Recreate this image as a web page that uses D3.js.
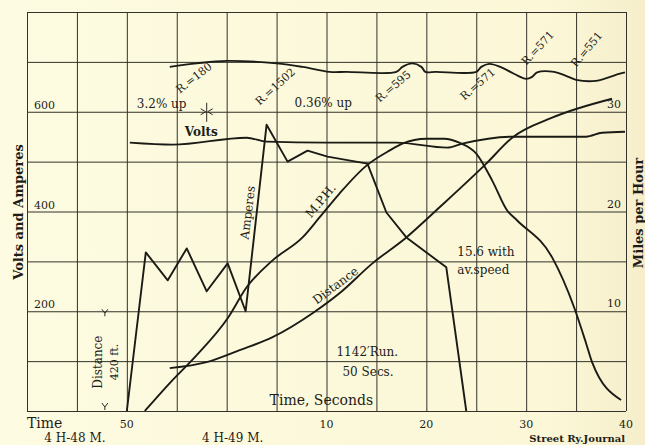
<!DOCTYPE html>
<html>
<head>
<meta charset="utf-8">
<script src="https://cdn.jsdelivr.net/npm/d3@7"></script>
<style>
  html, body { margin: 0; padding: 0; background: #fcf9dd; }
  svg { display: block; }
  text { font-family: "DejaVu Serif", "Liberation Serif", serif; fill: #1d1d18; }
</style>
</head>
<body>
<div id="chart"></div>
<script>
// elapsed seconds from 4 H-48 M. 50 s
var timeTickSec = [0, 20, 30, 40, 50];
var timeTickLabels = ["50", "10", "20", "30", "40"];
var voltTicks = [200, 400, 600];
var mphTicks = [10, 20, 30];

// amperes
var ampT = [0, 1.9, 4.1, 6, 8, 10.1, 11.9, 14, 16.1, 18.1, 20.1, 24.1, 26, 28, 32, 34];
var ampV = [0, 318, 262, 326, 240, 296, 200, 574, 500, 522, 510, 496, 398, 348, 288, 0];

// volts
var voltT = [0.3, 4.6, 12, 14, 20, 27, 32.1, 33.6, 38.6, 46, 47.6, 49.9];
var voltV = [538, 534, 548, 540, 538, 538, 528, 536, 550, 550, 558, 560];

// miles per hour
var mphT = [1.8, 4.3, 7, 10.1, 12, 14.6, 17.6, 19.3, 21.3, 24, 26.3, 27.6, 30, 31.8, 33.3, 35, 36.6, 38.1, 39.1, 42.6, 44.8, 46, 46.6, 49.5];
var mphV = [0, 2.8, 5.6, 9.3, 12.4, 15.1, 17.4, 19.4, 21.8, 24.6, 26.1, 26.8, 27.3, 27.3, 26.9, 25.8, 23.1, 20.1, 19.1, 15.4, 10.4, 6.8, 4.9, 1.1];

// distance (drawn on volts scale)
var distT = [4.3, 8, 11.3, 14.6, 18.6, 21.3, 24.6, 28, 31.3, 36, 38.6, 42.6, 48.6];
var distV = [86, 98, 122, 148, 196, 236, 296, 348, 408, 496, 548, 588, 626];

// track profile (drawn on volts scale)
var profT = [4.3, 7, 10, 15, 17.6, 20.3, 22, 27, 27.6, 28.6, 29.5, 29.9, 31, 35, 35.5, 36.3, 37.4, 38.4, 39.2, 40, 40.6, 41.1, 42.8, 44, 45, 47, 49.3, 49.9];
var profV = [690, 697, 702, 697, 690, 680, 680, 680, 690, 697, 690, 680, 680, 680, 690, 696, 690, 680, 672, 666, 670, 679, 680, 672, 664, 662, 676, 679];

var W = 645, H = 445;
var plotL = 27, plotR = 626, plotT = 12, plotB = 411;

var svg = d3.select("#chart")
    .append("svg")
    .attr("width", W)
    .attr("height", H)

var grad = svg.append("defs").append("linearGradient").attr("id", "paper")
grad.append("stop").attr("offset", "0%").attr("stop-color", "#fdfbe1")
grad.append("stop").attr("offset", "85%").attr("stop-color", "#fbf7d7")
grad.append("stop").attr("offset", "100%").attr("stop-color", "#f6eecb")
svg.append("rect").attr("width", W).attr("height", H).attr("fill", "url(#paper)")

var x = d3.scaleLinear().domain([-10, 50]).range([plotL, plotR]);
var y = d3.scaleLinear().domain([0, 800]).range([plotB, plotT]);
var yMph = d3.scaleLinear().domain([0, 40]).range([plotB, plotT]);

// grid
svg.append("g")
    .attr("transform", "translate(0," + plotB + ")")
    .call(d3.axisBottom(x).tickValues(d3.range(-10, 51, 5)).tickSize(-(plotB - plotT)).tickFormat(""))
    .call(function(g){ g.select(".domain").remove(); })
    .selectAll("line").attr("stroke", "#33322a").attr("stroke-width", 1)

svg.append("g")
    .attr("transform", "translate(" + plotL + ",0)")
    .call(d3.axisLeft(y).tickValues(d3.range(0, 801, 100)).tickSize(-(plotR - plotL)).tickFormat(""))
    .call(function(g){ g.select(".domain").remove(); })
    .selectAll("line").attr("stroke", "#33322a").attr("stroke-width", 1)

// curves
function series(ts, vs, scale, curve) {
    var pts = ts.map(function(t, i){ return [t, vs[i]]; });
    svg.append("path")
        .datum(pts)
        .attr("fill", "none")
        .attr("stroke", "#1b1b16")
        .attr("stroke-width", 1.9)
        .attr("stroke-linejoin", "round")
        .attr("d", d3.line()
            .x(function(d){ return x(d[0]); })
            .y(function(d){ return scale(d[1]); })
            .curve(curve));
}
series(profT, profV, y, d3.curveCatmullRom.alpha(0.5));
series(voltT, voltV, y, d3.curveMonotoneX);
series(ampT, ampV, y, d3.curveLinear);
series(mphT, mphV, yMph, d3.curveMonotoneX);
series(distT, distV, y, d3.curveMonotoneX);

// tick labels inside plot
svg.selectAll(".vlab").data(voltTicks).enter().append("text")
    .attr("x", 34).attr("y", function(d){ return y(d) - 3; })
    .attr("font-size", 11).text(function(d){ return d; })
svg.selectAll(".mlab").data(mphTicks).enter().append("text")
    .attr("x", 621).attr("y", function(d){ return yMph(d) - 4; })
    .attr("text-anchor", "end")
    .attr("font-size", 11).text(function(d){ return d; })
svg.selectAll(".tlab").data(timeTickSec).enter().append("text")
    .attr("x", function(d){ return x(d); }).attr("y", 428)
    .attr("text-anchor", "middle")
    .attr("font-size", 11).text(function(d, i){ return timeTickLabels[i]; })

// notes on the chart: [text, t, value, rotate, size, anchor, weight]
var notes = [
    ["R.=180", 5.3, 636, -38, 11, "start", "normal"],
    ["R.=1502", 13.3, 612, -42, 11, "start", "normal"],
    ["R.=595", 25.3, 618, -40, 11, "start", "normal"],
    ["R.=571", 33.8, 622, -41, 11, "start", "normal"],
    ["R.=571", 40, 692, -47, 11, "start", "normal"],
    ["R.=551", 45, 688, -50, 11, "start", "normal"],
    ["3.2% up", 1, 608, 0, 12, "start", "normal"],
    ["0.36% up", 16.8, 610, 0, 12, "start", "normal"],
    ["Volts", 5.8, 552, 0, 12, "start", "bold"],
    ["Amperes", 12.1, 398, -83, 12, "middle", "normal"],
    ["M.P.H.", 19.4, 422, -50, 12, "middle", "normal"],
    ["Distance", 20.9, 252, -37, 12, "middle", "normal"],
    ["15.6 with", 33.1, 310, 0, 12, "start", "normal"],
    ["av.speed", 33.1, 274, 0, 12, "start", "normal"],
    ["1142\u2032Run.", 21, 110, 0, 12, "start", "normal"],
    ["50 Secs.", 21.6, 70, 0, 12, "start", "normal"],
    ["Time, Seconds", 14.3, 12, 0, 14, "start", "normal"],
    ["Distance", -2.9, 98, -90, 12, "middle", "normal"],
    ["420 ft.", -1.3, 98, -90, 11, "middle", "normal"]
];
svg.selectAll(".note").data(notes).enter().append("text")
    .attr("transform", function(d){ return "translate(" + x(d[1]) + "," + y(d[2]) + ") rotate(" + d[3] + ")"; })
    .attr("dy", function(d){ return d[5] == "middle" ? "0.35em" : 0; })
    .attr("text-anchor", function(d){ return d[5]; })
    .attr("font-size", function(d){ return d[4]; })
    .attr("font-weight", function(d){ return d[6]; })
    .text(function(d){ return d[0]; })

// small marks
var mk = svg.append("g").attr("stroke", "#2a2a22").attr("stroke-width", 1).attr("fill", "none")
var cx = x(8), cy = y(600);
mk.append("path").attr("d", "M" + cx + "," + (cy - 9) + "v19")
mk.append("path").attr("d", "M" + (cx - 6) + "," + (cy - 3) + "l5,3l-5,3M" + (cx + 6) + "," + (cy - 3) + "l-5,3l5,3")
mk.append("path").attr("d", "M" + (x(-2.2) - 3) + "," + (y(196) - 4) + "l3,4l3,-4M" + x(-2.2) + "," + y(196) + "v3")
mk.append("path").attr("d", "M" + (x(-2.2) - 3) + "," + (y(8) - 4) + "l3,4l3,-4M" + x(-2.2) + "," + y(8) + "v3")

// outside labels
svg.append("text").attr("x", plotL).attr("y", 428).attr("font-size", 14).text("Time")
svg.append("text").attr("x", x(-5.2)).attr("y", 442).attr("text-anchor", "middle")
    .attr("font-family", "Liberation Serif").attr("font-size", 12).text("4 H-48 M.")
svg.append("text").attr("x", x(10.6)).attr("y", 442).attr("text-anchor", "middle")
    .attr("font-family", "Liberation Serif").attr("font-size", 12).text("4 H-49 M.")
svg.append("text").attr("x", 625).attr("y", 442).attr("text-anchor", "end")
    .attr("font-size", 10).attr("font-weight", "bold").text("Street Ry.Journal")

svg.append("text")
    .attr("transform", "translate(18,212) rotate(-90)")
    .attr("dy", "0.35em").attr("text-anchor", "middle")
    .attr("font-size", 13).attr("font-weight", "bold")
    .text("Volts and Amperes")
svg.append("text")
    .attr("transform", "translate(638,213) rotate(-90)")
    .attr("dy", "0.35em").attr("text-anchor", "middle")
    .attr("font-size", 13).attr("font-weight", "bold")
    .text("Miles per Hour")
</script>
</body>
</html>
